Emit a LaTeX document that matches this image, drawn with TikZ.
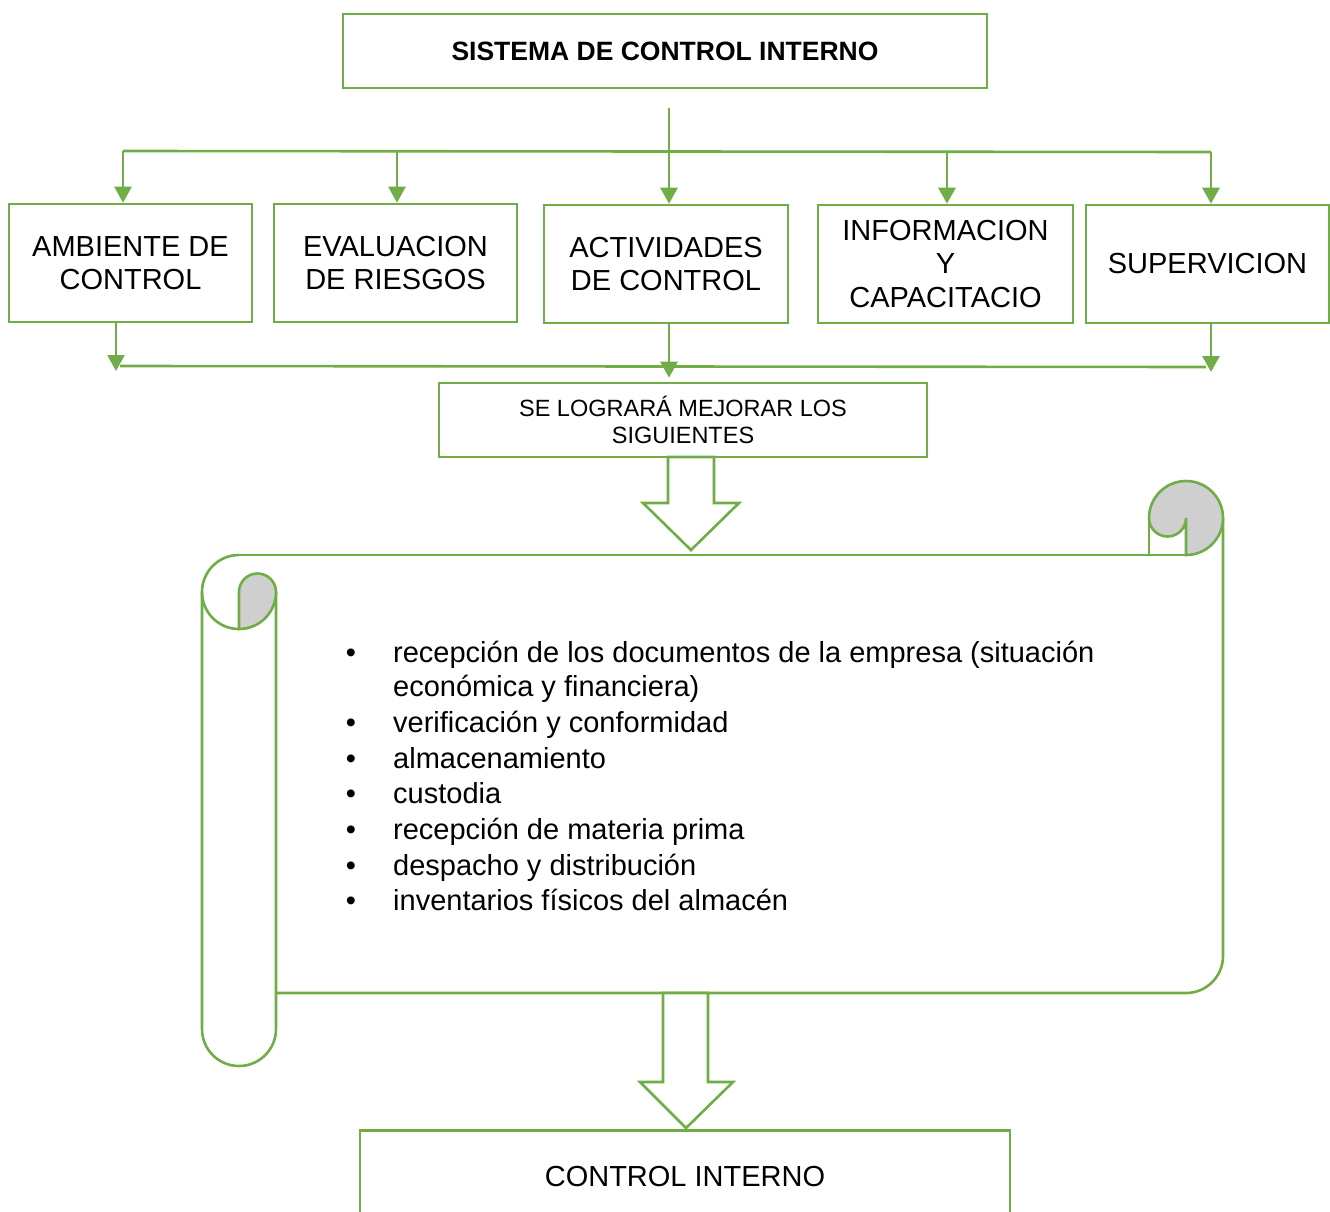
\documentclass[tikz,border=0pt]{standalone}
\usepackage{fontspec}
\setmainfont{Liberation Sans}
\usetikzlibrary{arrows.meta}
\definecolor{grn}{HTML}{70AD47}
\definecolor{gry}{HTML}{CFCFCF}
\begin{document}
\begin{tikzpicture}[x=1pt,y=-1pt,
  box/.style={draw=grn, line width=2.6pt, inner sep=0pt, align=center, font=\fontsize{29}{33.5}\selectfont},
  arr/.style={draw=grn, line width=2.6pt, -{Triangle[length=16pt,width=17pt]}},
  ln/.style={draw=grn, line width=2.6pt},
  blk/.style={draw=grn, line width=2.6pt, fill=white, line join=miter},
  itm/.style={anchor=base west, inner sep=0pt, font=\fontsize{29}{35}\selectfont},
  bul/.style={anchor=base, inner sep=0pt, font=\fontsize{29}{35}\selectfont}]
\useasboundingbox (0,0) rectangle (1330,1212);

% top title
\node[box, minimum width=644, minimum height=74, font=\bfseries\fontsize{26.5}{30}\selectfont] (title) at (665,51) {SISTEMA DE CONTROL INTERNO};

% five boxes
\node[box, minimum width=243, minimum height=118] (b1) at (130.5,263) {AMBIENTE DE\\CONTROL};
\node[box, minimum width=243, minimum height=118] (b2) at (395.5,263) {EVALUACION\\DE RIESGOS};
\node[box, minimum width=244, minimum height=118] (b3) at (666,264) {ACTIVIDADES\\DE CONTROL};
\node[box, minimum width=255, minimum height=118] (b4) at (945.5,264) {INFORMACION\\Y\\CAPACITACIO};
\node[box, minimum width=243, minimum height=118] (b5) at (1207.5,264) {SUPERVICION};

% top connectors
\coordinate (t0) at (669,108);
\coordinate (h1) at (123,151);
\coordinate (h2) at (397,151);
\coordinate (h4) at (947,152);
\coordinate (h5) at (1211,152);
\draw[ln] (h1) -- (h5);
\draw[arr] (t0) -- (t0 |- b3.north);
\draw[arr] (h1) -- (h1 |- b1.north);
\draw[arr] (h2) -- (h2 |- b2.north);
\draw[arr] (h4) -- (h4 |- b4.north);
\draw[arr] (h5) -- (h5 |- b5.north);

% middle box
\node[box, minimum width=488, minimum height=74, font=\fontsize{23.5}{27}\selectfont] (se) at (683,420) {SE LOGRARÁ MEJORAR LOS\\SIGUIENTES};

% bottom connectors of five boxes
\coordinate (k1) at (116,371);
\coordinate (k5) at (1211,372);
\coordinate (m1) at (120,366);
\coordinate (m5) at (1206,367);
\draw[ln] (m1) -- (m5);
\draw[arr] (b1.south -| k1) -- (k1);
\draw[arr] (b5.south -| k5) -- (k5);
\draw[arr, shorten >=4pt] (b3.south -| t0) -- (se.north -| t0);

% block arrow 1
\draw[blk] (668,457) -- (668,503) -- (643,503) -- (691,550) -- (739,503) -- (714,503) -- (714,457) -- cycle;

% scroll body
\begin{scope}[draw=grn, line width=2.6pt, line cap=butt]
\draw[ln] (239,555) -- (1186,555);
\draw[ln] (1223,518) -- (1223,956) arc[start angle=0, end angle=-90, radius=37pt] -- (276,993);
% top-right curl
\draw[ln, fill=gry] (1186,555) arc[start angle=-90, end angle=180, radius=37pt]
   arc[start angle=180, end angle=360, radius=18.5pt] -- cycle;
\draw[ln] (1149,518) -- (1149,555);
% left strip
\draw[ln] (239,555) arc[start angle=90, end angle=270, radius=37pt];
\draw[ln] (202,592) -- (202,1029) arc[start angle=180, end angle=360, radius=37pt] -- (276,592);
\draw[ln, fill=gry] (239,629) arc[start angle=-90, end angle=0, radius=37pt]
   arc[start angle=0, end angle=180, radius=18.5pt] -- cycle;
\end{scope}

% bullet list
\node[bul] (p1) at (351,662) {\textbullet};
\node[itm] (l1) at (393,662) {recepción de los documentos de la empresa (situación};
\node[itm] (l1b) at (393,696) {económica y financiera)};
\node[bul] (p2) at (351,732) {\textbullet};
\node[itm] (l2) at (393,732) {verificación y conformidad};
\node[bul] (p3) at (351,768) {\textbullet};
\node[itm] (l3) at (393,768) {almacenamiento};
\node[bul] (p4) at (351,803) {\textbullet};
\node[itm] (l4) at (393,803) {custodia};
\node[bul] (p5) at (351,839) {\textbullet};
\node[itm] (l5) at (393,839) {recepción de materia prima};
\node[bul] (p6) at (351,875) {\textbullet};
\node[itm] (l6) at (393,875) {despacho y distribución};
\node[bul] (p7) at (351,910) {\textbullet};
\node[itm] (l7) at (393,910) {inventarios físicos del almacén};

% block arrow 2
\draw[blk] (663,993) -- (663,1082) -- (640,1082) -- (686,1128) -- (733,1082) -- (708,1082) -- (708,993) -- cycle;

% bottom box (cut by page edge)
\node[box, anchor=north, minimum width=650, minimum height=130, text height=21pt, text depth=38pt] (ci) at (685,1129) {CONTROL INTERNO};
\end{tikzpicture}
\end{document}
